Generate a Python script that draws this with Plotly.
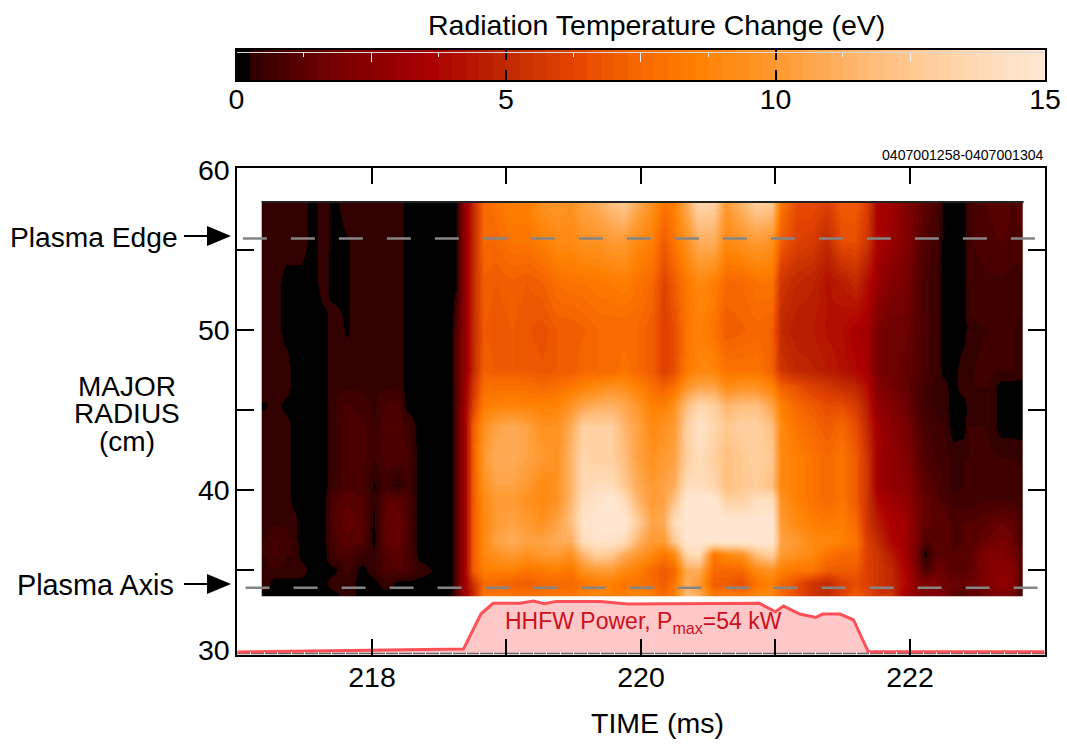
import numpy as np
import plotly.graph_objects as go

W, H = 1067, 745
FONT = "Liberation Sans"

# ---- data -----------------------------------------------------------------
time_ms = [217.21, 217.27, 217.36, 217.42, 217.47, 217.55, 217.64, 217.71, 217.81, 217.92,
           218.01, 218.11, 218.19, 218.26, 218.35, 218.52, 218.59, 218.62, 218.68, 218.75,
           218.83, 218.92, 219.04, 219.15, 219.26, 219.37, 219.48, 219.57, 219.67, 219.78,
           219.87, 219.97, 220.08, 220.17, 220.24, 220.34, 220.43, 220.54, 220.63, 220.75,
           220.86, 220.97, 221.04, 221.16, 221.27, 221.38, 221.49, 221.60, 221.68, 221.76,
           221.86, 221.97, 222.07, 222.11, 222.20, 222.25, 222.32, 222.40, 222.44, 222.57,
           222.68, 222.77, 222.815]

radius_cm = [58.0, 55.5, 53, 50, 47.5, 46.5, 45.3, 44, 42, 40.3, 39.5, 38, 36.8, 36, 35, 34.2, 33.4]

# one list per time, listed from the top radius to the bottom radius
temp_by_time = [
    [.45,.45,.45,.45,.45,.45,.2,.45,.45,.45,.45,.45,.5,.5,.45,.45,.1],
    [.45,.45,.45,.45,.45,.45,.45,.45,.45,.45,.45,.45,.8,.8,.45,.1,.1],
    [.45,.45,.1,.1,.45,.45,.1,.45,.45,.45,.45,.45,.6,.5,.45,.1,.1],
    [.45,.45,.1,.1,.1,.1,.1,.1,.1,.1,.1,.4,.45,.5,.45,.1,.1],
    [.45,.45,.1,.1,.1,.1,.1,.1,.1,.1,.1,.1,.1,.1,.45,.1,.1],
    [.1,.1,.1,.1,.1,.1,.1,.1,.1,.1,.1,.1,.1,.1,.1,.1,.1],
    [.45,.45,.4,.1,.1,.1,.1,.1,.1,.1,.1,.1,.1,.1,.1,.1,.1],
    [.1,.1,.1,.45,.45,.45,.45,.45,.45,.5,.9,1,.8,.7,.1,.5,.1],
    [.45,.2,.2,.2,.45,.45,.8,.9,.9,.9,1.2,1.4,1.2,.9,.6,.45,.45],
    [.45,.45,.45,.45,.45,.45,.6,.9,.9,.8,1,1.2,1,.5,.1,.1,.1],
    [.45,.45,.45,.45,.45,.45,.45,.5,.5,.2,.3,.2,.1,.4,.45,.1,.1],
    [.45,.45,.45,.45,.45,.45,.8,1,.9,.6,1.2,1.5,1.4,1,.9,.5,.1],
    [.45,.45,.45,.45,.45,.45,.9,1,.9,.2,1.2,1.5,1.5,1.2,1,.1,.1],
    [.1,.1,.1,.1,.1,.1,.1,.6,.8,.7,.9,1,.9,.9,.9,.1,.1],
    [.1,.1,.1,.1,.1,.1,.1,.1,.1,.1,.1,.1,.1,.1,.45,.1,.1],
    [.1,.1,.1,.1,.1,.1,.1,.1,.1,.1,.1,.1,.1,.1,.1,.1,.1],
    [.1,.1,.1,.1,.1,.1,.1,.1,.1,.1,.1,.1,.1,.1,.1,.1,.3],
    [.1,.1,.1,1,1,1,1,1,1,1,1,1,1,1,1,1,1],
    [2.5,2.5,2.5,2.5,2.5,2.8,3,3,3,3,3,3,3,3,3,3,3],
    [5,5,5,5,5,5.5,6,7,7,7,7,7,7,7,7,5.5,5],
    [7.5,7.5,7.2,7,7.2,7.8,8.3,9.5,10,9.5,9.2,9,9,9,8.5,7.5,8],
    [8,7.5,7,6.8,7,7.8,8.6,10.5,11,10.5,10,10,10.5,9.5,8.5,7.5,8],
    [8.5,8,7.2,7,7,7.8,8.8,11,11,10.5,10,10.5,11,10,8.5,7.2,8],
    [8.5,8,7,6.8,7,7.8,8.6,10.5,10.5,10,9.5,10,10.5,9.5,8,7,7.8],
    [9.5,8.5,7.2,6.6,6.8,7.5,8.6,9.5,10,9,9,9.5,10.5,10,8.2,7.5,8],
    [9.8,9,7.8,7,7,7.8,8.7,9.5,9.5,9.5,9.5,10.5,11,10,8.5,7.5,8],
    [9.5,9,8,7,7,8.1,9.6,11,11.5,11.5,11.5,12,11,9.5,8,7.5,8],
    [10.5,9.5,8,7.2,7.5,8.6,10.6,13,13.5,13.5,14,14.5,14,11.5,9.5,8,8.5],
    [11,9.5,8.2,7.5,7.5,9,11.2,13,13,14,14.5,15,14.5,13,10,8.5,9],
    [12,10,8.3,7.5,7.5,9.5,11.2,13,13,14,15,15,14.5,12.5,10,8.5,8.5],
    [12.5,10,8.5,7.5,8,9.2,10.8,11.5,12,12.5,14,15,14,11,9,8,8.5],
    [11,9,8,7.5,7.5,8.6,9.8,10.5,10.5,11,11.5,13,11.5,10,8.5,8,9],
    [9.5,8.5,7.5,7,7,7.8,8.5,9,9.5,10,10,10.5,10,9,7.5,7.5,8.5],
    [8,7,6.2,6,6,7.2,8.5,9.5,10,10.5,10.5,11,10,8,7,7,7.5],
    [8.5,8,7,6.5,6.5,7.8,9.5,10,10.5,11,12,14,12.5,9,7.5,8,8.5],
    [11,9.5,8.2,8,8.2,9.8,12,13,13,14,15,15,15,13.5,11,11,12],
    [13.5,11,9,8.6,8.9,10.5,13.5,14.5,14,14,15,15,15,14,11,10,11],
    [13,11,8.5,8,8.8,10.5,13,13.5,13,13.5,15,15,15,8,7.5,7,8],
    [10,9,7.5,7,8,9.2,11.5,12.5,12,12,13,15,15,9,7.5,7,8.5],
    [11.5,9.5,7.5,7.2,8,9.5,12,13,12.5,12.5,13,15,15,9.5,7.5,6.5,8],
    [13,10,8,7.4,8,9.5,12,13,13,12.8,14,15,15,12,9,8,9],
    [12.5,9.5,8,7.2,7.2,8.6,10.5,12,12.5,12,14,15,15,13,9.5,8.5,9],
    [8,7,5.5,5,5.5,7.2,8.5,9,9,9,9.5,10,10.5,10,8.5,7.5,7.5],
    [6.5,6,5,4.5,5,6.6,7.5,8,8.5,8.5,8.5,9,10,9.5,8,6.5,6.5],
    [6.5,5.8,4.8,4.5,4.8,6,7,7.5,8,8,8,8.5,9,9,8,5.5,5.5],
    [6,5,4.2,4.2,4.5,5.6,6.5,7,7.5,7.5,7.5,8.2,9,8,7,5,5],
    [7,6.5,4.5,4,4.2,5.2,6.5,7.5,8,8,8,8.5,8.5,7.5,7,6,6],
    [7,6.5,5,3.5,3.8,4.8,5.8,6.5,7,7,7,7.5,8,7.5,7,6.5,7],
    [6,5.5,4,3.4,3.4,4,4.5,5,5.5,5.5,5.5,5.5,6,6,6,6,6.3],
    [3.5,3.5,3,1.9,1.9,2.2,2.7,3.2,3.2,3.2,3.7,4.5,5,5.5,5.5,5.5,5.5],
    [3.3,3,2.2,1.6,1.6,1.8,2.2,2.5,2.7,2.7,3.2,3.6,3.8,4.5,5,5,5.5],
    [2.2,2.2,1.9,1.6,1.4,1.4,1.6,1.9,2.2,2.5,2.7,3.2,3.2,3.2,3.6,3.8,3.2],
    [1.5,1.2,1,1,1,.8,.8,1,1.2,1.5,1.6,1.6,1.6,1.2,1.6,2.2,2.2],
    [1.2,1,.8,.8,.8,.7,.7,.8,1,1.2,1.4,1.4,.9,.1,.9,2.2,2.2],
    [.9,.6,.5,.5,.5,.4,.4,.6,.7,.9,1,1.2,1.2,1.2,1.6,2.2,2.2],
    [.1,.1,.1,.1,.1,.4,.4,.5,.7,.7,.9,1.2,1.2,1.2,1.5,1.6,1.9],
    [.1,.1,.1,.1,.1,.1,.1,.1,.4,.4,.6,.9,.9,1,1.2,1.6,1.2],
    [.1,.1,.1,.1,.45,.45,.1,.1,.5,.5,.6,1,1,1.2,1.2,1.5,1],
    [.7,.7,.6,.45,.45,.5,.45,.5,.5,.6,.6,1,1,1.2,1.2,1.6,1.2],
    [1,.9,.7,.5,.6,.5,.5,.5,.6,.6,.7,1.2,1.6,2.2,2.2,2.2,1.6],
    [1.2,1,.7,.5,.5,.1,.1,.1,.5,.6,.7,1.5,1.9,2.2,2.5,2.7,2.2],
    [.9,.9,.6,.5,.5,.1,.1,.1,.5,.6,.7,1.2,1.6,1.6,2.2,2.2,1.6],
    [1.2,.9,.6,.45,.45,.1,.1,.1,.45,.6,.6,.9,.9,1.2,1.2,1,.9],
]

power_time = [217.0, 218.0, 218.68, 218.81, 218.90, 219.10, 219.20, 219.28, 219.37, 219.70,
              219.90, 220.88, 221.00, 221.06, 221.18, 221.30, 221.35, 221.48, 221.58, 221.69, 223.0]
power_level = [29.875, 29.98, 30.06, 32.25, 32.92, 32.92, 33.06, 32.89, 33.04, 33.04,
               32.88, 32.92, 32.39, 32.75, 32.25, 32.04, 32.25, 32.25, 31.88, 29.89, 29.89]

edge_radius = 55.73
axis_radius = 33.89
edge_time = [217.04, 222.93]
axis_time = [217.06, 222.95]
baseline_level = 29.78
heat_top_time = [217.18, 222.845]
heat_top_radius = 58.0

y_ticks = [35, 40, 45, 50, 55]
y_labels = [30, 40, 50, 60]
x_ticks = [218, 219, 220, 221, 222]
x_labels = [218, 220, 222]
bar_ticks = [0, 5, 10, 15]
bar_long_white = [2.5, 7.5, 12.5]
bar_short_white = [1.25, 3.75, 6.25, 8.75, 11.25, 13.75]

# ---- colour scale ---------------------------------------------------------
anchors = [(0, (0, 0, 0)), (.25, (46, 0, 0)), (.8, (72, 0, 0)), (1.4, (100, 0, 0)), (2.1, (128, 0, 0)),
           (3, (152, 0, 0)), (3.6, (172, 0, 0)), (5, (192, 42, 0)), (6.2, (226, 68, 0)), (7.5, (248, 105, 0)),
           (8.5, (255, 128, 0)), (10, (255, 154, 48)), (11, (255, 172, 88)), (12, (255, 192, 128)),
           (13, (255, 208, 160)), (14, (255, 222, 188)), (15, (255, 232, 212))]
STEPS = 60
levels = (np.arange(STEPS) + .5) * 15 / STEPS
av = [a[0] for a in anchors]
step_rgb = [[int(np.interp(0 if i == 0 else v, av, [a[1][c] for a in anchors])) for c in range(3)]
            for i, v in enumerate(levels)]
cscale = []
for i, rgb in enumerate(step_rgb):
    col = f"rgb({rgb[0]},{rgb[1]},{rgb[2]})"
    cscale += [[i / STEPS, col], [(i + 1) / STEPS, col]]

# ---- helpers --------------------------------------------------------------
def px(x): return x / W
def py(y): return 1 - y / H

x_dom = [px(236.7), px(1045)]
y_dom = [py(655), py(167.5)]
bar_dom_x = [px(236.5), px(1045)]
bar_dom_y = [py(80), py(50)]
X_RANGE = [217.0 - 0.006, 223.0 + 0.004]
Y_RANGE = [29.69, 60.16]

z = np.array(temp_by_time).T
y_vals = [radius_cm[0], radius_cm[0] - .1] + radius_cm[1:-1] + [radius_cm[-1] + .1, radius_cm[-1]]
z_full = np.vstack([z[0], z, z[-1]])

fig = go.Figure()
fig.add_trace(go.Heatmap(x=time_ms, y=y_vals, z=z_full, zmin=0, zmax=15, colorscale=cscale,
                         zsmooth="best", showscale=False, hoverinfo="skip"))
fig.add_trace(go.Scatter(x=heat_top_time, y=[heat_top_radius] * 2, mode="lines",
                         line=dict(color="#222", width=2), hoverinfo="skip"))
for t, r in ((edge_time, edge_radius), (axis_time, axis_radius)):
    fig.add_trace(go.Scatter(x=t, y=[r, r], mode="lines", hoverinfo="skip",
                             line=dict(color="#858585", width=2.5, dash="24px,24px")))
fig.add_trace(go.Scatter(x=[power_time[0], power_time[-1]], y=[baseline_level] * 2, mode="lines",
                         line=dict(color="#666", width=1.5), hoverinfo="skip"))
fig.add_trace(go.Scatter(x=power_time, y=power_level, mode="lines", fill="tonexty",
                         fillcolor="#ffc8c8", line=dict(color="#ff5058", width=3), hoverinfo="skip"))
# colour bar strip
fig.add_trace(go.Heatmap(x=levels, y=[0, 1], z=[list(levels), list(levels)], zmin=0, zmax=15,
                         colorscale=cscale, showscale=False, xaxis="x2", yaxis="y2", hoverinfo="skip"))
# invisible traces so that the label-only and white-tick axes are drawn
fig.add_trace(go.Scatter(x=x_labels, y=y_labels[:3], mode="markers", marker=dict(opacity=0),
                         xaxis="x5", yaxis="y4", hoverinfo="skip"))
fig.add_trace(go.Scatter(x=bar_long_white, y=[0, 0, 0], mode="markers", marker=dict(opacity=0),
                         xaxis="x3", yaxis="y3", hoverinfo="skip"))
fig.add_trace(go.Scatter(x=bar_short_white, y=[0] * 6, mode="markers", marker=dict(opacity=0),
                         xaxis="x4", yaxis="y3", hoverinfo="skip"))

tickfont = dict(family=FONT, size=28.5, color="black")
layout = dict(
    template="none",
    width=W, height=H, margin=dict(l=0, r=0, t=0, b=0, pad=0), autosize=False,
    paper_bgcolor="white", plot_bgcolor="rgba(0,0,0,0)", showlegend=False, hovermode=False,
    font=dict(family=FONT, color="black"),
    xaxis=dict(domain=x_dom, range=X_RANGE, anchor="y", showgrid=False, zeroline=False, showline=True,
               linecolor="black", linewidth=2.2, mirror="allticks", ticks="inside", ticklen=16, tickwidth=2,
               tickcolor="black", tickvals=x_ticks, showticklabels=False,
               minor=dict(ticks="inside", ticklen=3, tickwidth=1, tickcolor="white", dtick=0.1, tick0=217,
                          showgrid=False)),
    xaxis5=dict(domain=x_dom, range=X_RANGE, anchor="y4", overlaying="x", side="bottom", showgrid=False,
                zeroline=False, showline=False, ticks="", tickvals=x_labels, tickfont=tickfont,
                ticklabelstandoff=2),
    yaxis=dict(domain=y_dom, range=Y_RANGE, anchor="x", showgrid=False, zeroline=False, showline=True,
               linecolor="black", linewidth=2.2, mirror="allticks", ticks="inside", ticklen=17, tickwidth=2,
               tickcolor="black", tickvals=y_ticks, showticklabels=False),
    yaxis4=dict(domain=y_dom, range=Y_RANGE, anchor="x5", overlaying="y", side="left", showgrid=False,
                zeroline=False, showline=False, ticks="", tickvals=y_labels, tickfont=tickfont,
                ticklabelstandoff=6),
    xaxis2=dict(domain=bar_dom_x, range=[0, 15], anchor="y2", showgrid=False, zeroline=False, showline=True,
                linecolor="black", linewidth=2.2, mirror="allticks", ticks="inside", ticklen=10, tickwidth=2,
                tickcolor="black", tickvals=bar_ticks, tickfont=tickfont, ticklabelstandoff=-7),
    yaxis2=dict(domain=bar_dom_y, range=[0, 1], anchor="x2", showgrid=False, zeroline=False, showline=True,
                linecolor="black", linewidth=2.2, mirror=True, ticks="", showticklabels=False),
    xaxis3=dict(domain=bar_dom_x, range=[0, 15], anchor="y3", side="top", showgrid=False, zeroline=False,
                showline=True, linecolor="#d8d8d8", linewidth=1, ticks="inside", ticklen=9, tickwidth=1,
                tickcolor="#f0f0f0", tickvals=bar_long_white, showticklabels=False),
    xaxis4=dict(domain=bar_dom_x, range=[0, 15], anchor="y3", side="top", overlaying="x3", showgrid=False,
                zeroline=False, showline=False, ticks="inside", ticklen=4, tickwidth=1, tickcolor="#f0f0f0",
                tickvals=bar_short_white, showticklabels=False),
    yaxis3=dict(domain=[py(80), py(52.7)], range=[0, 1], anchor="x3", showgrid=False, zeroline=False,
                showline=False, ticks="", showticklabels=False),
)
fig.update_layout(**layout)

def label(text, x, y, size=28.5, color="black", xanchor="center"):
    fig.add_annotation(text=text, xref="paper", yref="paper", x=px(x), y=py(y), showarrow=False,
                       xanchor=xanchor, yanchor="middle", align="center",
                       font=dict(family=FONT, size=size, color=color))

label("Radiation Temperature Change (eV)", 656, 25)
label("0407001258-0407001304", 1046, 155, size=14.1, xanchor="right")
label("MAJOR", 127, 386, size=28)
label("RADIUS", 127, 413, size=28)
label("(cm)", 127, 441, size=28)
label("TIME (ms)", 657, 723)
label("Plasma Edge", 180, 237, size=28.2, xanchor="right")
label("Plasma Axis", 176, 585, size=28.8, xanchor="right")
label("HHFW Power, P<sub>max</sub>=54 kW", 643, 622, size=23, color="#cc1020")

for y in (236, 584):
    fig.add_shape(type="line", xref="paper", yref="paper", x0=px(184), x1=px(210), y0=py(y), y1=py(y),
                  line=dict(color="black", width=2))
    fig.add_shape(type="path", xref="paper", yref="paper", fillcolor="black", line=dict(width=0),
                  path=f"M {px(207)} {py(y-10)} L {px(231)} {py(y)} L {px(207)} {py(y+10)} Z")

fig.write_html("out.html", post_script="document.body.style.margin='0';",
               config=dict(displayModeBar=False))
